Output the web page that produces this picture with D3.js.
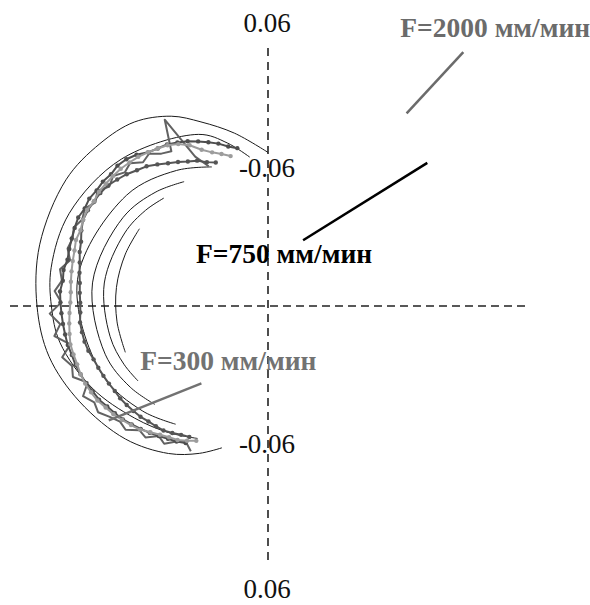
<!DOCTYPE html>
<html>
<head>
<meta charset="utf-8">
<script src="https://cdn.jsdelivr.net/npm/d3@7"></script>
<style>
  body { margin: 0; background: #fff; }
  svg { display: block; font-family: "Liberation Serif", "Times New Roman", serif; }
</style>
</head>
<body>
<div id="chart"></div>
<script>
// measurement angles, degrees counter-clockwise from the +x axis
const angles = [98,101,104,107,110,113,116,119,122,125,128,131,134,137,140,143,146,149,152,155,
  158,161,164,167,170,173,176,179,182,185,188,191,194,197,200,203,206,209,212,215,
  218,221,224,227,230,233,236,239,242];

// radial deviation, µm (null = no measurement)
const traceA = [null,-48,-44,-38,-33,-28,-23,-19,-15,-13,-10,-4,0,2,1,3,3,5,4,6,
  5,4,3,2,4,3,5,4,3,2,1,0,-2,-3,-5,-7,-10,-12,-16,-19,
  -22,-26,-30,-34,-38,-42,-45,-49,null];
const traceB = [null,null,-55,-50,-45,-38,-28,-21,-16,-13,-10,-7,-5,-3,-2,-1,0,-1,1,0,
  -2,-1,-3,-4,-5,-6,-7,-7,-6,-5,-4,-3,-4,-5,-5,-6,-8,-10,-14,-17,
  -21,-25,-29,-35,-40,-44,-47,-52,-57];
const traceC = [null,null,null,null,-57,-53,-47,-43,-38,-33,-27,-21,-17,-12,-8,-4,-2,-1,0,0,
  -3,-7,-9,-12,-14,-16,-17,-18,-18,-17,-18,-19,-21,-24,-26,-28,-30,-32,-33,-35,
  -37,-39,-42,-44,-46,-50,-54,-57,null];
const traceD = [null,null,null,null,null,-58,-42,10,-24,-20,-12,-15,-6,-9,-2,-6,2,-3,4,1,
  6,3,5,-1,8,4,11,3,16,5,13,-3,9,1,4,-9,2,-6,-4,-12,
  -18,-17,-28,-27,-38,-35,-45,-50,-44];

// reference contours: [angle, deviation µm]
const contour1 = [[90,-56],[101,-31],[110,-9],[117,10],[126,26],[136,33],[148,38],[165,36],[180,30],
  [193,23],[207,8],[223,-10],[236,-29],[245,-46],[252,-61]];
const contour2 = [[97,-60],[104,-40],[112,-21],[135,4],[155,17],[170,18],[180,14],[190,8],
  [205,-11],[220,-33],[232,-48],[242,-60]];
const contour3 = [[112,-60],[124,-45],[142,-27],[172,-13],[202,-27],[220,-45],[232,-60]];
const contour4 = [[124,-60],[134.5,-49],[148.5,-38],[172.5,-30],[196.5,-38],[210.5,-49],[221,-60]];
const contour5 = [[134,-60],[142,-54],[153,-48],[172,-43],[191,-48],[202,-54],[210,-60]];
const contour6 = [[149,-60],[160,-58],[173,-57],[186,-58],[198,-60]];

const radialTicks = [-60, 60];
const feedLabels = ["F=2000 мм/мин", "F=750 мм/мин", "F=300 мм/мин"];

const width = 590, height = 605;
const cx = 268, cy = 306;

const svg = d3.select("#chart").append("svg")
  .attr("width", width)
  .attr("height", height);
svg.append("rect").attr("width", width).attr("height", height).attr("fill", "#fff");

const g = svg.append("g").attr("transform", `translate(${cx},${cy})`);

const r = d3.scaleLinear().domain([-60, 60]).range([150, 258]);
// cartesian scales (µm) for the annotations
const x = d3.scaleLinear().domain([-300, 300]).range([-270, 270]);
const y = d3.scaleLinear().domain([-300, 300]).range([270, -270]);
const toRad = deg => (90 - deg) * Math.PI / 180;
const fmt = v => d3.format(".2f")(v / 1000).replace("\u2212", "-");

// dashed axes
const rMax = r(60);
g.append("line").attr("x1", -rMax).attr("x2", rMax).attr("y1", 0).attr("y2", 0)
  .attr("stroke", "#222").attr("stroke-width", 1.6).attr("stroke-dasharray", "8,5");
g.append("line").attr("x1", 0).attr("x2", 0).attr("y1", -rMax).attr("y2", rMax)
  .attr("stroke", "#222").attr("stroke-width", 1.6).attr("stroke-dasharray", "8,6");

// tick labels on the vertical axis
radialTicks.forEach(v => {
  const off = v < 0 ? -12 : 25;
  [-1, 1].forEach(s => {
    g.append("text")
      .attr("x", -1)
      .attr("y", s * (r(v) + off))
      .attr("dy", "0.35em")
      .attr("text-anchor", "middle")
      .attr("font-size", 27)
      .attr("fill", "#111")
      .text(fmt(v));
  });
});

// reference contours
const contourLine = d3.lineRadial()
  .angle(d => toRad(d[0]))
  .radius(d => r(d[1]))
  .curve(d3.curveCatmullRom);

[contour1, contour2, contour3, contour4, contour5, contour6].forEach(c => {
  g.append("path")
    .attr("d", contourLine(c))
    .attr("fill", "none")
    .attr("stroke", "#1a1a1a")
    .attr("stroke-width", 1);
});

// profile traces
const traces = [
  { values: traceD, color: "#626262", dots: false },
  { values: traceC, color: "#555555", dots: true },
  { values: traceA, color: "#4e4e4e", dots: true },
  { values: traceB, color: "#9c9c9c", dots: true }
];

const traceLine = d3.lineRadial()
  .defined(d => d[1] !== null)
  .angle(d => toRad(d[0]))
  .radius(d => r(d[1]));

traces.forEach(t => {
  const pts = angles.map((a, i) => [a, t.values[i]]);
  g.append("path")
    .attr("d", traceLine(pts))
    .attr("fill", "none")
    .attr("stroke", t.color)
    .attr("stroke-width", 2)
    .attr("stroke-linejoin", "round");
  if (t.dots) {
    g.selectAll(null)
      .data(pts.filter(d => d[1] !== null))
      .enter().append("circle")
      .attr("cx", d => d3.pointRadial(toRad(d[0]), r(d[1]))[0])
      .attr("cy", d => d3.pointRadial(toRad(d[0]), r(d[1]))[1])
      .attr("r", 2.2)
      .attr("fill", t.color);
  }
});

// annotations
const notes = [
  { text: feedLabels[0], color: "#6b6b6b", at: [147, 299], from: [217, 282], to: [154, 214] },
  { text: feedLabels[1], color: "#000000", at: [-80, 48], from: [177, 159], to: [39, 73] },
  { text: feedLabels[2], color: "#727272", at: [-142, -71], from: [-74, -86], to: [-177, -127] }
];

notes.forEach(n => {
  g.append("line")
    .attr("x1", x(n.from[0])).attr("y1", y(n.from[1]))
    .attr("x2", x(n.to[0])).attr("y2", y(n.to[1]))
    .attr("stroke", n.color)
    .attr("stroke-width", 2.5);
  g.append("text")
    .attr("x", x(n.at[0]))
    .attr("y", y(n.at[1]))
    .attr("font-size", 27.5)
    .attr("font-weight", "bold")
    .attr("fill", n.color)
    .text(n.text);
});
</script>
</body>
</html>
